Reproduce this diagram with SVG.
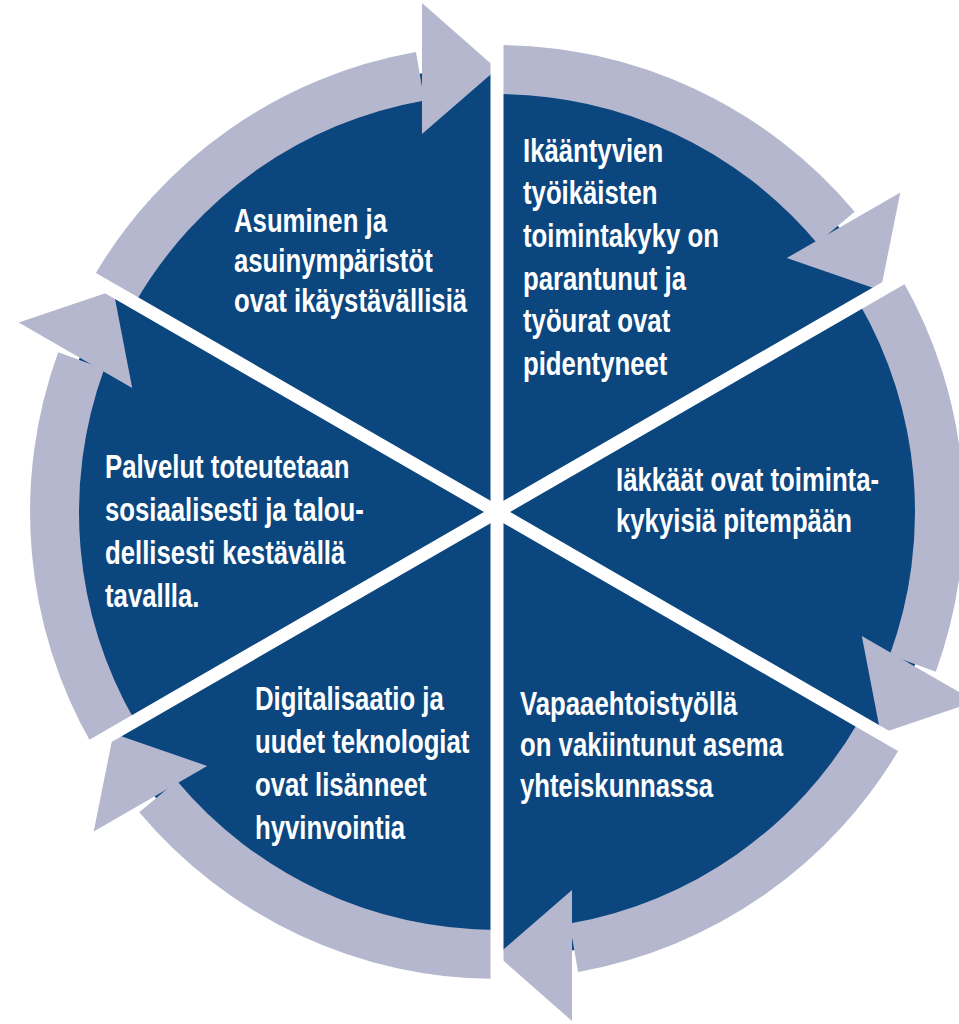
<svg xmlns="http://www.w3.org/2000/svg" width="959" height="1024" viewBox="0 0 959 1024">
<style>
.sec{fill:#0b467f}
.arr{fill:#b4b7ce}
.div{stroke:#ffffff;stroke-width:13;fill:none}
.t{font-family:"Liberation Sans",Arial,sans-serif;font-weight:bold;font-size:33px;fill:#ffffff}
</style>
<rect width="959" height="1024" fill="#ffffff"/>
<g id="nodes">
<g id="node-top-left">
<path class="sec" d="M497,512 L111.6,289.5 A445,445 0 0 1 497,67 Z"/>
<g class="t" transform="translate(234,0) scale(0.78,1)">
<text x="0" y="232">Asuminen ja</text>
<text x="0" y="272">asuinympäristöt</text>
<text x="0" y="312">ovat ikäystävällisiä</text>
</g>
</g>
<g id="node-top-right">
<path class="sec" d="M497,512 L497,67 A445,445 0 0 1 882.4,289.5 Z"/>
<g class="t" transform="translate(523,0) scale(0.78,1)">
<text x="0" y="162">Ikääntyvien</text>
<text x="0" y="204">työikäisten</text>
<text x="0" y="247">toimintakyky on</text>
<text x="0" y="290">parantunut ja</text>
<text x="0" y="332">työurat ovat</text>
<text x="0" y="375">pidentyneet</text>
</g>
</g>
<g id="node-right">
<path class="sec" d="M497,512 L882.4,289.5 A445,445 0 0 1 882.4,734.5 Z"/>
<g class="t" transform="translate(616,0) scale(0.78,1)">
<text x="0" y="491">Iäkkäät ovat toiminta-</text>
<text x="0" y="532">kykyisiä pitempään</text>
</g>
</g>
<g id="node-bottom-right">
<path class="sec" d="M497,512 L882.4,734.5 A445,445 0 0 1 497,957 Z"/>
<g class="t" transform="translate(520,0) scale(0.78,1)">
<text x="0" y="715">Vapaaehtoistyöllä</text>
<text x="0" y="756">on vakiintunut asema</text>
<text x="0" y="797">yhteiskunnassa</text>
</g>
</g>
<g id="node-bottom-left">
<path class="sec" d="M497,512 L497,957 A445,445 0 0 1 111.6,734.5 Z"/>
<g class="t" transform="translate(255,0) scale(0.78,1)">
<text x="0" y="710">Digitalisaatio ja</text>
<text x="0" y="753">uudet teknologiat</text>
<text x="0" y="796">ovat lisänneet</text>
<text x="0" y="839">hyvinvointia</text>
</g>
</g>
<g id="node-left">
<path class="sec" d="M497,512 L111.6,734.5 A445,445 0 0 1 111.6,289.5 Z"/>
<g class="t" transform="translate(105,0) scale(0.78,1)">
<text x="0" y="478">Palvelut toteutetaan</text>
<text x="0" y="521">sosiaalisesti ja talou-</text>
<text x="0" y="564">dellisesti kestävällä</text>
<text x="0" y="607">tavallla.</text>
</g>
</g>
</g>
<g id="connectors">
<g id="arrow-1">
<path class="arr" d="M92.6,278.5 A467,467 0 0 1 415.9,52.1 L424.4,100.4 A418,418 0 0 0 135,303 Z"/>
<polygon class="arr" points="422,3 497,69 422,134"/>
</g>
<g id="arrow-2">
<path class="arr" d="M497,45 A467,467 0 0 1 854.7,211.8 L817.2,243.3 A418,418 0 0 0 497,94 Z"/>
<polygon class="arr" points="900.3,192.5 880.6,290.5 786.8,258"/>
</g>
<g id="arrow-3">
<path class="arr" d="M901.4,278.5 A467,467 0 0 1 935.8,671.7 L889.8,655 A418,418 0 0 0 859,303 Z"/>
<polygon class="arr" points="975.3,701.5 880.6,733.5 861.8,636"/>
</g>
<g id="arrow-4">
<path class="arr" d="M901.4,745.5 A467,467 0 0 1 578.1,971.9 L569.6,923.6 A418,418 0 0 0 859,721 Z"/>
<polygon class="arr" points="572,1021 497,955 572,890"/>
</g>
<g id="arrow-5">
<path class="arr" d="M497,979 A467,467 0 0 1 139.3,812.2 L176.8,780.7 A418,418 0 0 0 497,930 Z"/>
<polygon class="arr" points="93.7,831.5 113.4,733.5 207.2,766"/>
</g>
<g id="arrow-6">
<path class="arr" d="M92.6,745.5 A467,467 0 0 1 58.2,352.3 L104.2,369 A418,418 0 0 0 135,721 Z"/>
<polygon class="arr" points="18.7,322.5 113.4,290.5 132.2,388"/>
</g>
</g>
<g id="dividers">
<line class="div" x1="497" y1="-28" x2="497" y2="1052"/>
<line class="div" x1="29.3" y1="242" x2="964.7" y2="782"/>
<line class="div" x1="29.3" y1="782" x2="964.7" y2="242"/>
</g>
</svg>
